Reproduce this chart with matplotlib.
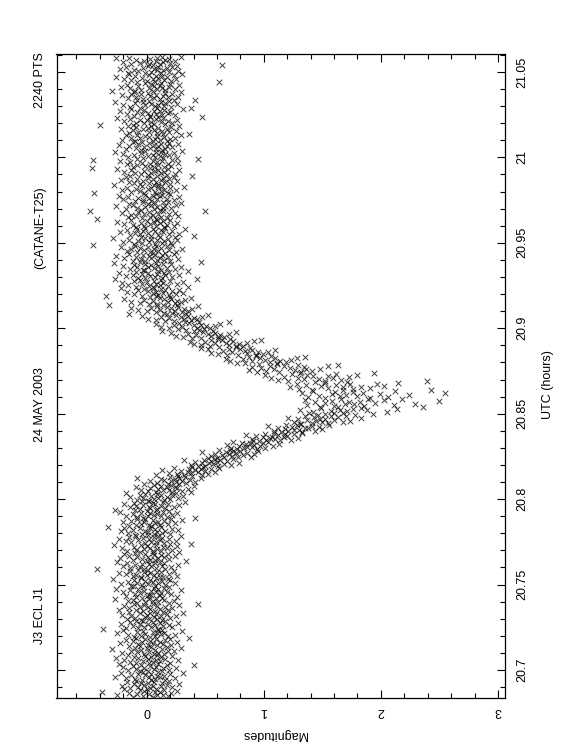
import numpy as np
import matplotlib
matplotlib.use('Agg')
import matplotlib.pyplot as plt
from matplotlib.ticker import MultipleLocator, FuncFormatter

plt.rcParams['font.family'] = ['Liberation Sans Narrow', 'Liberation Sans', 'DejaVu Sans']

# light curve: UTC bins of 0.005 h, magnitudes x100 per bin
utc_start = 20.684
bin_width = 0.005
mag_rows = [
    [-12, 5, 18, -3, 9, -25, 14, 2, -8, 21, -15, 7, -38, 11, -2, 26, -6, 15, 0, -19],
    [8, -14, 3, 22, -7, 12, -21, 5, 17, -2, -11, 28, 1, -5, 13, -17, 6, 19, -9, 4],
    [-4, 16, -10, 7, 24, -18, 2, 11, -27, 9, 15, -1, -13, 20, 4, -7, 31, -22, 10, -3],
    [13, -6, 1, -16, 19, 6, -9, 25, -2, 14, -20, 8, 3, -12, 17, 40, -5, 10, -24, 2],
    [-9, 20, 5, -14, 11, -3, 27, -19, 8, 1, 16, -7, -26, 12, 4, -11, 22, -1, 9, -16],
    [6, -2, 15, -21, 10, 2, -8, 18, -13, 23, -5, 7, -30, 13, 0, 29, -10, 4, 17, -6],
    [-15, 9, 1, 21, -7, 14, -23, 5, 11, -4, 26, -12, 3, 16, -18, 8, -1, 20, -9, 36],
    [3, -11, 18, -5, 7, 24, -16, 12, -1, 9, -25, 15, 5, -8, 30, -3, 10, -20, 13, -37],
    [10, -7, -18, 4, 22, -2, 14, -12, 7, 19, -6, 1, -22, 11, 27, -14, 5, 16, -3, -9],
    [-5, 13, 2, -17, 9, 20, -10, 6, -1, 25, -13, 12, 0, -21, 17, 8, -6, 3, 31, -15],
    [14, -3, 7, -24, 18, -9, 3, 11, -15, 22, 1, -6, 16, -19, 9, -2, 28, -11, 5, 44],
    [-8, 19, -1, 10, -16, 5, 23, -12, 15, 2, -27, 8, -4, 13, -9, 26, 0, -18, 11, 4],
    [2, -10, 21, -6, 12, -20, 8, 17, -2, 4, -14, 29, -7, 10, -26, 15, 6, -3, 19, -12],
    [-13, 7, -4, 16, 1, -22, 24, -8, 10, 5, -16, 13, -1, 20, -11, 3, -29, 18, 8, -5],
    [11, -5, 14, -12, 26, 0, -9, 6, -18, 19, 3, -24, 12, -2, 9, 23, -14, 1, -7, -42],
    [-2, 16, -14, 8, -6, 21, 4, -20, 13, -10, 27, 2, -4, 15, -17, 7, 11, -25, 34, 0],
    [7, -12, 3, 19, -4, 10, -23, 15, 1, -8, 24, -15, 6, 12, -1, -19, 18, 5, -10, 28],
    [-6, 12, -17, 5, 22, -9, 9, -2, 17, -21, 3, 14, -11, 26, 0, -5, 8, -28, 20, 38],
    [15, -1, 8, -13, 4, 25, -18, 11, -7, 2, 19, -24, 13, -3, 6, -15, 29, 10, -9, 1],
    [-10, 6, 20, -4, 13, -16, 1, 9, -22, 16, -1, 27, -12, 7, 22, -6, 3, -19, 12, -33],
    [4, -15, 11, 2, -9, 18, -5, 24, 7, -20, 10, -2, 15, -13, 30, 5, -8, 21, -1, 41],
    [-3, 17, -8, 12, 1, -18, 22, 6, -12, 9, 26, -5, 3, -23, 14, 0, 19, -10, 8, -27],
    [9, -6, 16, 3, -14, 23, 2, -9, 12, 28, -3, 7, -19, 18, 5, -11, 14, 33, -4, 1],
    [2, 15, -8, 20, 6, -3, 27, 10, -14, 17, 4, 31, -6, 12, 22, -1, 9, -18, 25, 38],
    [8, 22, 1, 30, 14, -5, 19, 35, 10, 26, 3, 17, -9, 24, 12, 40, 6, 21, -2, 28],
    [18, 34, 9, 25, 41, 21, 3, 30, 15, 37, 24, 12, 46, 28, -8, 33, 20, 39, 27, 8],
    [32, 47, 26, 52, 38, 19, 44, 58, 35, 29, 50, 41, 13, 55, 36, 46, 23, 62, 39, 48],
    [44, 61, 50, 72, 38, 57, 66, 47, 53, 79, 41, 60, 55, 69, 32, 63, 49, 74, 58, 52],
    [60, 78, 66, 89, 55, 73, 82, 64, 92, 70, 58, 76, 86, 68, 47, 80, 74, 95, 62, 71],
    [77, 94, 83, 101, 72, 90, 86, 108, 79, 97, 69, 92, 85, 113, 81, 99, 88, 74, 104, 91],
    [96, 114, 102, 123, 90, 110, 105, 129, 99, 117, 107, 93, 120, 112, 85, 126, 101, 118, 109, 133],
    [115, 133, 121, 144, 109, 130, 126, 150, 118, 138, 112, 135, 124, 147, 104, 141, 128, 119, 156, 131],
    [132, 155, 141, 168, 126, 150, 145, 174, 137, 160, 129, 152, 148, 183, 121, 163, 143, 170, 135, 157],
    [146, 178, 152, 193, 139, 168, 160, 205, 142, 171, 157, 188, 131, 165, 176, 214, 149, 183, 163, 236],
    [148, 186, 160, 211, 137, 177, 169, 229, 152, 195, 144, 182, 173, 250, 158, 203, 135, 189, 166, 218],
    [152, 191, 138, 206, 165, 180, 147, 224, 170, 158, 199, 133, 185, 255, 161, 176, 142, 212, 168, 243],
    [141, 176, 130, 191, 155, 168, 122, 183, 149, 203, 136, 162, 174, 128, 197, 152, 215, 144, 171, 239],
    [121, 152, 112, 166, 134, 147, 106, 159, 129, 173, 117, 142, 155, 101, 137, 180, 124, 162, 131, 194],
    [113, 94, 132, 102, 141, 127, 87, 136, 109, 148, 98, 122, 90, 134, 117, 155, 105, 129, 163, 111],
    [96, 84, 111, 77, 119, 105, 71, 114, 90, 123, 101, 82, 68, 110, 128, 97, 87, 135, 106, 93],
    [69, 93, 78, 61, 99, 86, 55, 95, 104, 73, 65, 84, 110, 90, 52, 80, 70, 88, 46, 76],
    [62, 54, 76, 82, 46, 70, 79, 40, 58, 86, 68, 50, 37, 74, 92, 64, 55, 98, 71, 61],
    [46, 39, 61, 31, 66, 55, 25, 63, 42, 70, 52, 35, 58, 21, 76, 48, 40, 13, 57, 45],
    [34, 27, 49, 54, 19, 43, 12, 30, 51, 58, 23, 46, 40, 8, 63, 36, 28, 70, 45, 33],
    [23, 16, 38, 8, 32, 43, 1, 40, 19, 29, 47, 12, 35, -4, 52, 25, 17, 34, -15, 22],
    [15, 8, 30, 0, 24, 35, -7, 11, 32, 39, 4, 21, -13, 27, 17, 44, 9, 26, -32, 14],
    [9, 2, 24, -6, 29, 18, -13, 5, 26, 33, -2, 15, 21, -19, 11, 38, 3, 20, -35, 8],
    [-4, 19, 10, 25, -11, 14, 5, 31, -17, 8, 22, 1, -7, 16, 28, -2, 12, -22, 6, 35],
    [5, -9, 18, 2, -16, 11, 26, -4, 8, -21, 14, 0, 31, -11, 6, 20, -6, 12, -27, 43],
    [-7, 13, -1, 22, 7, -18, 3, 16, -12, 28, 9, -4, 15, -24, 1, 19, -9, 10, 35, -2],
    [12, -3, 24, -14, 6, 17, -8, 1, 29, -20, 10, 4, -11, 21, -1, 14, -28, 8, 46, -6],
    [-1, 20, -12, 9, 15, -5, 27, -19, 4, 11, -9, 18, 2, -26, 13, 7, -3, 23, -15, 5],
    [16, -8, 3, 25, -17, 10, -2, 19, 6, -13, 30, -6, 12, 1, -22, 17, 8, -10, 22, -46],
    [-11, 7, 21, -4, 13, -20, 2, 15, -7, 26, 9, -15, 4, 18, -1, -29, 11, 24, -5, 40],
    [4, -14, 10, 19, -6, 28, 1, -10, 14, -23, 7, 22, -3, 12, -17, 5, 33, -8, 16, -1],
    [-9, 15, -2, 8, 23, -12, 17, 3, -19, 11, -5, 26, 6, -25, 14, 0, 20, -13, 9, -42],
    [8, -4, 17, -16, 3, 12, -9, 27, 5, -13, 19, -2, 10, -21, 24, 2, -7, 14, -48, 50],
    [-5, 11, -18, 6, 21, -8, 14, -1, 9, -26, 16, 4, -12, 25, 1, -15, 7, 29, -3, 18],
    [14, -10, 4, 23, -3, 9, -20, 17, 2, -7, 28, -16, 11, 5, -24, 13, -1, 20, 8, -45],
    [-2, 18, -13, 7, 12, -6, 25, -21, 15, 1, -9, 20, 4, -17, 10, 32, -4, 13, -28, 6],
    [10, -6, 20, -11, 2, 16, -15, 8, 26, -3, 12, -22, 5, 19, -8, 1, 14, -18, 23, 39],
    [-14, 9, 1, 17, -5, 24, -10, 12, 4, -19, 15, 7, -2, 28, -13, 10, -25, 18, 3, -47],
    [6, -12, 15, -1, 21, -8, 10, -17, 18, 3, -4, 27, -14, 9, 13, -23, 5, 22, -46, 44],
    [-8, 14, -3, 26, 7, -16, 11, 1, -11, 19, 5, -20, 16, -5, 23, 8, -27, 12, 30, -1],
    [13, -5, 8, -18, 16, 3, -9, 22, -2, 10, -15, 17, 6, -24, 12, 27, -7, 2, 19, -12],
    [-4, 17, -10, 5, 11, -21, 20, 7, -6, 24, -13, 2, 15, -1, 9, -18, 29, -8, 14, 36],
    [9, -15, 2, 19, -7, 13, 25, -12, 6, -3, 17, -22, 10, 1, -9, 21, 4, -16, 28, -40],
    [-12, 6, 16, -2, 22, -9, 4, 12, -19, 18, 0, -6, 26, 8, -14, 14, -25, 10, 3, 47],
    [3, -11, 13, 24, -4, 8, -17, 18, 1, -8, 20, 11, -23, 6, 15, -2, 31, -13, 9, 38],
    [-6, 21, -14, 7, 15, -1, 10, -20, 26, 4, -10, 16, -3, 12, -27, 19, 2, -8, 23, 41],
    [11, -3, 6, -16, 18, 27, -9, 3, 14, -21, 8, 22, -5, -13, 16, 1, 29, -11, 5, -30],
    [-10, 16, -5, 9, 24, -14, 13, 2, -22, 19, 6, -7, 28, 11, -17, 4, 20, -1, 12, 62],
    [7, -8, 21, 0, -13, 15, 5, -19, 25, 10, -4, 17, -26, 8, 13, -10, 2, 23, -15, 30],
    [-1, 12, -16, 19, 4, -7, 27, 9, -11, 14, -23, 6, 17, -3, 10, 22, -18, 1, 26, 64],
    [5, -13, 11, 2, 20, -6, 14, -20, 8, 24, -2, 16, -9, 3, 19, -15, 9, -26, 13, 29],
]

title_parts = ['J3 ECL J1', '24 MAY 2003', '(CATANE-T25)', '2240 PTS']

# build the time / magnitude arrays (points evenly spread inside each bin)
utc = []
mag = []
for k, row in enumerate(mag_rows):
    n = len(row)
    for j, m in enumerate(row):
        utc.append(utc_start + (k + (j + 0.5) / n) * bin_width)
        mag.append(m / 100.0)
utc = np.array(utc)
mag = np.array(mag)

fig = plt.figure(figsize=(5.62, 7.56), dpi=100)
ax = fig.add_axes([56.5 / 562, 1 - 698 / 756, (505 - 56.5) / 562, (698 - 53.5) / 756])

# plot is the landscape light curve turned a quarter turn
ax.scatter(mag, utc, marker='x', s=16, linewidths=0.7, color='black', alpha=0.75)

ax.set_xlim(-0.77, 3.06)
ax.set_ylim(20.6836, 21.0608)

ax.xaxis.set_major_locator(MultipleLocator(1))
ax.xaxis.set_minor_locator(MultipleLocator(0.2))
ax.yaxis.set_major_locator(MultipleLocator(0.05))
ax.yaxis.set_minor_locator(MultipleLocator(0.01))
ax.yaxis.set_major_formatter(FuncFormatter(lambda v, p: '%g' % round(v, 2)))
ax.xaxis.set_major_formatter(FuncFormatter(lambda v, p: '%g' % round(v, 2)))

ax.tick_params(axis='both', which='both', direction='in', top=True, bottom=True,
               left=True, right=True, labelleft=False, labelright=True,
               labelsize=9, width=0.8, color='black')
ax.tick_params(which='major', length=6)
ax.tick_params(which='minor', length=3.5)
ax.tick_params(axis='y', pad=8)
ax.tick_params(axis='x', pad=5)

for lab in ax.get_yticklabels():
    lab.set_rotation(90)
    lab.set_va('center')
    lab.set_ha('left')
for lab in ax.get_xticklabels():
    lab.set_rotation(180)
    lab.set_ha('center')
    lab.set_va('top')

for sp in ax.spines.values():
    sp.set_linewidth(0.9)

fig.text(548 / 562, 1 - 385 / 756, 'UTC (hours)', rotation=90, ha='center', va='center', fontsize=9)
fig.text(275 / 562, 1 - 734 / 756, 'Magnitudes', rotation=180, ha='center', va='center', fontsize=9)

title_y = [616, 405, 228, 80]
for txt, yy in zip(title_parts, title_y):
    fig.text(40 / 562, 1 - yy / 756, txt, rotation=90, ha='center', va='center', fontsize=9)

fig.savefig('out.png', dpi=100)
